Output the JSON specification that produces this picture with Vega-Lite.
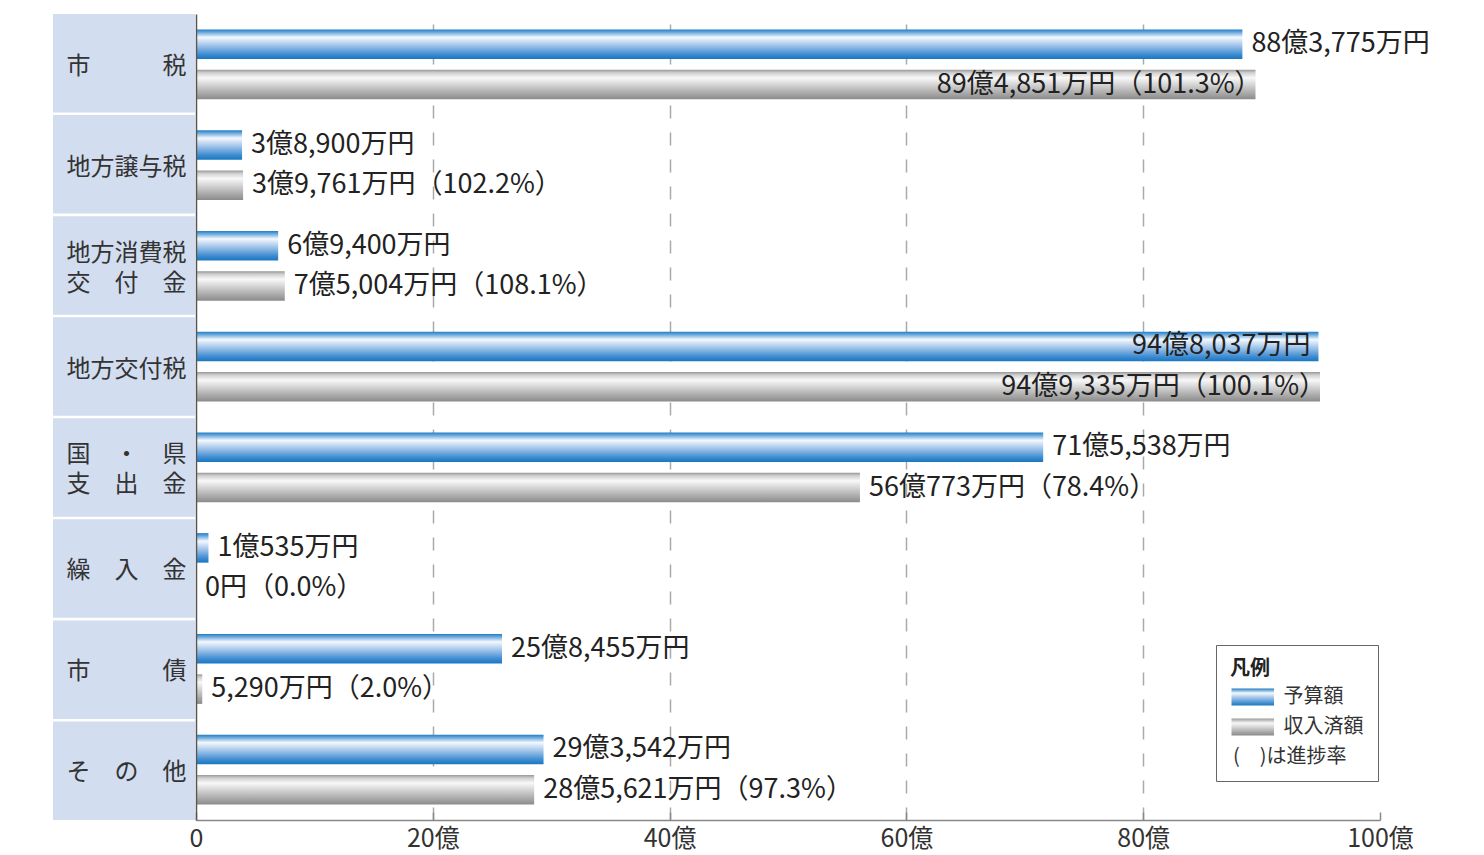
{
  "$schema": "https://vega.github.io/schema/vega-lite/v6.json",
  "background": "white",
  "padding": {"left": 53, "top": 14, "right": 0, "bottom": 0},
  "autosize": {"type": "pad"},
  "bounds": "flush",
  "spacing": 1,
  "config": {"view": {"stroke": null}, "font": "Noto Sans CJK JP"},
  "datasets": {
    "cats": [
      {"cat": "市　　　税"},
      {"cat": "地方譲与税"},
      {"cat": "地方消費税\n交　付　金"},
      {"cat": "地方交付税"},
      {"cat": "国　・　県\n支　出　金"},
      {"cat": "繰　入　金"},
      {"cat": "市　　　債"},
      {"cat": "そ　の　他"}
    ],
    "vals": [
      {"cat": "市　　　税", "series": "予算額", "value": 88.3775, "label": "88億3,775万円"},
      {"cat": "市　　　税", "series": "収入済額", "value": 89.4851, "label": "89億4,851万円（101.3%）"},
      {"cat": "地方譲与税", "series": "予算額", "value": 3.89, "label": "3億8,900万円"},
      {"cat": "地方譲与税", "series": "収入済額", "value": 3.9761, "label": "3億9,761万円（102.2%）"},
      {"cat": "地方消費税\n交　付　金", "series": "予算額", "value": 6.94, "label": "6億9,400万円"},
      {"cat": "地方消費税\n交　付　金", "series": "収入済額", "value": 7.5004, "label": "7億5,004万円（108.1%）"},
      {"cat": "地方交付税", "series": "予算額", "value": 94.8037, "label": "94億8,037万円"},
      {"cat": "地方交付税", "series": "収入済額", "value": 94.9335, "label": "94億9,335万円（100.1%）"},
      {"cat": "国　・　県\n支　出　金", "series": "予算額", "value": 71.5538, "label": "71億5,538万円"},
      {"cat": "国　・　県\n支　出　金", "series": "収入済額", "value": 56.0773, "label": "56億773万円（78.4%）"},
      {"cat": "繰　入　金", "series": "予算額", "value": 1.0535, "label": "1億535万円"},
      {"cat": "繰　入　金", "series": "収入済額", "value": 0, "label": "0円（0.0%）"},
      {"cat": "市　　　債", "series": "予算額", "value": 25.8455, "label": "25億8,455万円"},
      {"cat": "市　　　債", "series": "収入済額", "value": 0.529, "label": "5,290万円（2.0%）"},
      {"cat": "そ　の　他", "series": "予算額", "value": 29.3542, "label": "29億3,542万円"},
      {"cat": "そ　の　他", "series": "収入済額", "value": 28.5621, "label": "28億5,621万円（97.3%）"}
    ]
  },
  "hconcat": [
    {
      "width": 142,
      "height": 806,
      "data": {"name": "cats"},
      "mark": {"type": "rect", "fill": "#d2ddf0"},
      "encoding": {
        "y": {"field": "cat", "type": "nominal", "sort": null, "scale": {"paddingInner": 0.025, "paddingOuter": 0}, "axis": null},
        "x": {"datum": 0, "type": "quantitative", "scale": {"domain": [0, 1]}, "axis": null},
        "x2": {"datum": 1}
      }
    },
    {
      "width": 1184,
      "height": 806,
      "data": {"name": "vals"},
      "encoding": {
        "y": {
          "field": "cat", "type": "nominal", "sort": null,
          "scale": {"type": "band", "paddingInner": 0, "paddingOuter": 0},
          "axis": {
            "title": null, "domain": true, "domainColor": "#555", "domainWidth": 1.5,
            "ticks": false, "labelAlign": "left", "labelPadding": 130, "labelFontSize": 24,
            "labelColor": "#333", "labelLineHeight": 30, "labelBaseline": "middle",
            "labelOffset": {"condition": {"test": "indexof(datum.label, '\\n') >= 0", "value": -12}, "value": 3},
            "labelExpr": "split(datum.label, '\\n')", "labelLimit": 0, "zindex": 1
          }
        },
        "yOffset": {
          "field": "series", "type": "nominal",
          "scale": {"type": "band", "domain": ["予算額", "収入済額"], "paddingInner": 0.27, "paddingOuter": 0.38}
        },
        "x": {
          "field": "value", "type": "quantitative",
          "scale": {"domain": [0, 100], "nice": false},
          "axis": {
            "title": null, "values": [0, 20, 40, 60, 80, 100],
            "labelExpr": "datum.value === 0 ? '0' : datum.value + '億'",
            "labelFontSize": 25, "labelColor": "#333", "labelPadding": 14, "labelFlush": false, "labelOverlap": false,
            "domainColor": "#888", "domainWidth": 1.5,
            "ticks": true, "tickSize": -8, "tickColor": "#888", "tickWidth": 1.5,
            "grid": true, "gridDash": [13, 14], "gridColor": "#aaa", "gridWidth": 1.5,
            "gridOpacity": {"condition": {"test": "datum.value === 0 || datum.value === 100", "value": 0}, "value": 1}
          }
        }
      },
      "layer": [
        {
          "mark": {"type": "bar", "stroke": null},
          "encoding": {
            "fill": {
              "condition": {
                "test": "datum.series === '予算額'",
                "value": {"gradient": "linear", "x1": 0, "y1": 0, "x2": 0, "y2": 1, "stops": [
                  {"offset": 0, "color": "#1e7cc3"},
                  {"offset": 0.1, "color": "#6aa8dd"},
                  {"offset": 0.27, "color": "#f4f8fd"},
                  {"offset": 0.55, "color": "#9fc3ea"},
                  {"offset": 0.85, "color": "#3d8bd0"},
                  {"offset": 1, "color": "#1878c1"}
                ]}
              },
              "value": {"gradient": "linear", "x1": 0, "y1": 0, "x2": 0, "y2": 1, "stops": [
                {"offset": 0, "color": "#999999"},
                {"offset": 0.1, "color": "#d0d0d0"},
                {"offset": 0.27, "color": "#f8f8f8"},
                {"offset": 0.6, "color": "#c6c6c6"},
                {"offset": 1, "color": "#8a8a8a"}
              ]}
            }
          }
        },
        {
          "transform": [{"filter": "datum.value <= 89"}],
          "mark": {"type": "text", "align": "left", "baseline": "middle", "dx": 9, "fontSize": 27, "color": "#222"},
          "encoding": {"text": {"field": "label"}}
        },
        {
          "transform": [{"filter": "datum.value > 89 && datum.series === '予算額'"}],
          "mark": {"type": "text", "align": "right", "baseline": "middle", "dx": -8, "fontSize": 27, "color": "#222"},
          "encoding": {"text": {"field": "label"}}
        },
        {
          "transform": [{"filter": "datum.value > 89 && datum.series === '収入済額'"}],
          "mark": {"type": "text", "align": "right", "baseline": "middle", "dx": 6, "fontSize": 27, "color": "#222"},
          "encoding": {"text": {"field": "label"}}
        },
        {
          "mark": {"type": "point", "filled": false, "strokeWidth": 0},
          "encoding": {
            "color": {
              "field": "series", "type": "nominal",
              "scale": {"domain": ["予算額", "収入済額", "(　)は進捗率"], "range": ["transparent", "transparent", "transparent"]},
              "legend": {
                "orient": "none", "legendX": 1163, "legendY": 631,
                "title": "凡例", "titleFontSize": 20, "titleFontWeight": "bold", "titleColor": "#222", "titlePadding": 8,
                "labelFontSize": 20, "labelColor": "#333", "labelOffset": 33.5, "labelLimit": 0,
                "symbolType": "M-1,-1H4V1H-1Z", "symbolSize": 289, "symbolStrokeWidth": 0, "symbolOpacity": 1,
                "rowPadding": 10, "padding": 14, "strokeColor": "#666", "fillColor": "white",
                "encoding": {
                  "symbols": {
                    "fill": {
                      "condition": [
                        {"test": "datum.value === '予算額'", "value": {"gradient": "linear", "x1": 0, "y1": 0, "x2": 0, "y2": 1, "stops": [
                          {"offset": 0, "color": "#1e7cc3"},
                          {"offset": 0.27, "color": "#f4f8fd"},
                          {"offset": 0.6, "color": "#8fb9e6"},
                          {"offset": 1, "color": "#1878c1"}
                        ]}},
                        {"test": "datum.value === '収入済額'", "value": {"gradient": "linear", "x1": 0, "y1": 0, "x2": 0, "y2": 1, "stops": [
                          {"offset": 0, "color": "#999999"},
                          {"offset": 0.27, "color": "#f8f8f8"},
                          {"offset": 0.6, "color": "#c6c6c6"},
                          {"offset": 1, "color": "#8a8a8a"}
                        ]}}
                      ],
                      "value": "transparent"
                    },
                    "size": {"value": 289},
                    "opacity": {"value": 1}
                  },
                  "labels": {
                    "dx": {"condition": {"test": "datum.value === '(　)は進捗率'", "value": -50.5}, "value": 0}
                  }
                }
              }
            }
          }
        }
      ]
    }
  ]
}
